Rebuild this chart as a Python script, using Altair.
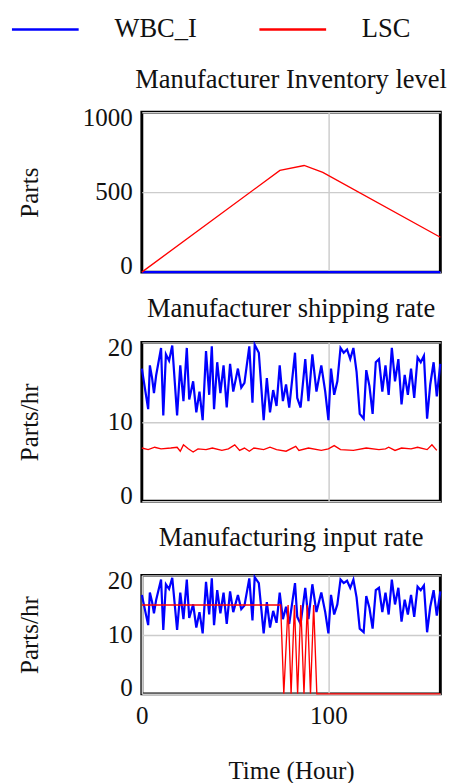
import altair as alt
import pandas as pd

FONT = "Liberation Serif"
SERIES = ["WBC_I", "LSC"]
COLORS = ["#0000ff", "#ff0000"]

# Panel 1: Manufacturer Inventory level (Parts)
inv_wbc_t = [0, 160]
inv_wbc_v = [0, 0]
inv_lsc_t = [0, 74, 87, 97, 160]
inv_lsc_v = [0, 636, 667, 624, 218]

# WBC_I rate (used for shipping rate and input rate, Parts/hr)
wbc_t = [0, 3.4, 4.3, 5.5, 6.5, 7.7, 10.3, 11.5, 12.9, 14.6, 16.3, 18.9, 20.6, 22.3,
         24.1, 25.4, 27.5, 29.2, 30.9, 32.6, 34.4, 36.1, 37.5, 38.7, 40.4, 42.1, 43.8,
         45.5, 47.3, 49.0, 51.5, 53.3, 55.0, 57.6, 59.3, 60.5, 62.7, 65.3, 67.0, 68.7,
         70.4, 72.2, 73.9, 75.6, 77.3, 79.0, 82.1, 83.3, 85.1, 87.6, 89.3, 91.4, 93.6,
         96.2, 98.3, 100.0, 101.4, 103.1, 104.8, 106.5, 108.2, 110.0, 111.7, 113.4,
         115.1, 116.8, 118.9, 120.3, 122.0, 123.7, 125.4, 127.1, 128.9, 130.6, 132.3,
         134.0, 135.7, 137.5, 139.2, 140.9, 142.6, 144.3, 146.0, 147.8, 149.5, 151.2,
         152.9, 154.6, 156.4, 158.1, 160]
wbc_v = [16.7, 11.6, 17.1, 15.5, 13.6, 15.9, 19.3, 10.8, 18.5, 17.7, 19.6, 10.8, 17.1, 12.6,
         19.3, 12.8, 15.1, 11.2, 13.8, 10.2, 18.9, 13.4, 19.5, 11.6, 17.5, 13.6, 17.1,
         11.8, 17.3, 13.8, 16.7, 14.3, 14.9, 19.5, 12.4, 19.7, 18.7, 10.2, 15.5, 11.2,
         14.0, 12.0, 17.1, 12.6, 14.7, 11.8, 18.7, 13.0, 11.8, 17.9, 12.6, 18.5, 13.8,
         17.1, 13.8, 10.2, 16.7, 13.4, 15.1, 19.3, 18.7, 19.1, 17.9, 19.3,
         16.3, 11.0, 10.4, 16.5, 14.5, 11.0, 17.5, 17.9, 13.8, 17.1, 13.4,
         19.3, 15.1, 17.9, 12.2, 15.9, 13.4, 16.7, 13.0, 18.1, 17.5, 18.3,
         10.4, 14.7, 17.5, 13.2, 17.3]

# LSC shipping rate (Parts/hr)
ship_t = [0, 3.4, 6.9, 10.3, 15.5, 18.9, 20.6, 22.3, 24.9, 27.5, 30.1, 34.4, 37.8, 42.9,
          46.4, 49.8, 52.4, 55.0, 57.6, 60.1, 65.3, 68.7, 72.2, 77.3, 82.5, 84.2, 89.3,
          96.2, 100.0, 103.1, 106.5, 113.4, 120.3, 127.1, 130.6, 132.3, 135.7, 139.2,
          144.3, 147.8, 152.9, 155.5, 158.1]
ship_v = [6.7, 6.5, 6.8, 6.6, 6.7, 6.8, 6.3, 7.1, 6.6, 6.2, 6.6, 6.5, 6.7, 6.4,
          6.6, 7.1, 6.4, 6.7, 6.3, 6.7, 6.5, 6.8, 6.5, 6.3, 6.9, 6.4, 6.7,
          6.4, 6.6, 7.0, 6.5, 6.4, 6.7, 6.5, 6.6, 6.8, 6.4, 6.7,
          6.6, 6.8, 6.5, 7.1, 6.4]

# LSC input rate (Parts/hr)
inp_t = [0, 74.4, 76.1, 78.4, 80.0, 81.8, 83.5, 85.2, 86.9, 88.7, 90.4, 92.1, 93.8, 160]
inp_v = [15, 15, 0, 15, 0, 15, 0, 15, 0, 15, 0, 15, 0, 0]


def frame(t_wbc, v_wbc, t_lsc, v_lsc):
    a = pd.DataFrame({"t": t_wbc, "v": v_wbc, "series": "WBC_I"})
    b = pd.DataFrame({"t": t_lsc, "v": v_lsc, "series": "LSC"})
    return pd.concat([a, b], ignore_index=True)


color = alt.Color(
    "series:N",
    scale=alt.Scale(domain=SERIES, range=COLORS),
    legend=alt.Legend(title=None, orient="none", direction="horizontal",
                      legendX=-114, legendY=-100, padding=0, offset=0),
)


def panel(df, title, ymax, yvals, ytitle, height, bottom=False, title_offset=14):
    if bottom:
        xaxis = alt.Axis(values=[0, 100], grid=True, ticks=False, domain=False,
                         labelPadding=10, title="Time (Hour)", titlePadding=31,
                         labelFlush=False, format="d")
    else:
        xaxis = alt.Axis(values=[100], grid=True, ticks=False, domain=False,
                         labels=False, title=None)
    x = alt.X("t:Q", scale=alt.Scale(domain=[0, 160], nice=False, zero=False), axis=xaxis)
    y = alt.Y("v:Q", scale=alt.Scale(domain=[0, ymax], nice=False),
              axis=alt.Axis(values=yvals, grid=True, ticks=False, domain=False,
                            format="d",
                            labelPadding=10, labelFlush=True, labelFlushOffset=7,
                            title=ytitle, titleX=-116, titleBaseline="middle",
                            titleAngle=270))
    blue = alt.Chart(df).transform_filter(alt.datum.series == "WBC_I").mark_line(
        strokeWidth=2.3).encode(x=x, y=y, color=color)
    red = alt.Chart(df).transform_filter(alt.datum.series == "LSC").mark_line(
        strokeWidth=1.4).encode(x=x, y=y, color=color)
    return alt.layer(blue, red).properties(
        width=310, height=height,
        title=alt.TitleParams(title, anchor="middle", frame="group", offset=title_offset,
                              fontSize=27.5, font=FONT, fontWeight="normal", color="#111"),
    )


p1 = panel(frame(inv_wbc_t, inv_wbc_v, inv_lsc_t, inv_lsc_v),
           "Manufacturer Inventory level", 1000, [0, 500, 1000], "Parts", 166,
           title_offset=13)
p2 = panel(frame(wbc_t, wbc_v, ship_t, ship_v),
           "Manufacturer shipping rate", 20, [0, 10, 20], "Parts/hr", 165)
p3 = panel(frame(wbc_t, wbc_v, inp_t, inp_v),
           "Manufacturing input rate", 20, [0, 10, 20], "Parts/hr", 123, bottom=True,
           title_offset=18)

chart = alt.vconcat(p1, p2, p3, spacing=14).configure_view(
    stroke="black", strokeWidth=3
).configure_axis(
    labelFont=FONT, labelFontSize=26, labelColor="#111",
    titleFont=FONT, titleFontSize=26, titleColor="#111", titleFontWeight="normal",
    gridColor="#cccccc", gridWidth=1.5,
).configure_legend(
    labelFont=FONT, labelFontSize=27.5, labelColor="#111",
    symbolType="M-4,0H4", symbolSize=300, symbolStrokeWidth=2.5,
    labelOffset=58, columnPadding=59,
).properties(padding={"left": 8, "top": -7, "right": 0, "bottom": 0})

chart.save("out.html", embed_options={"renderer": "svg", "actions": False})
